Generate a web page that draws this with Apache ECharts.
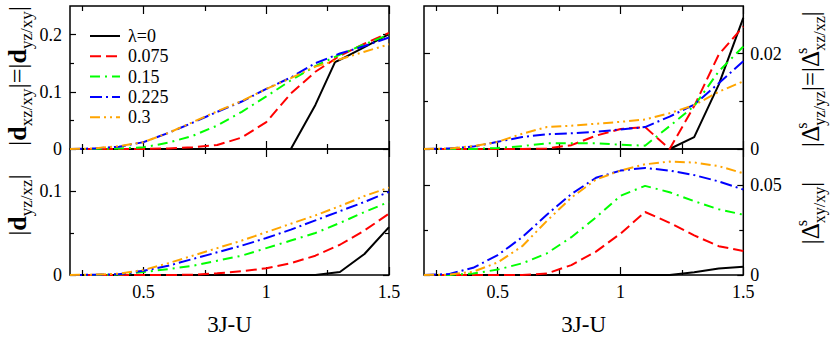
<!DOCTYPE html>
<html><head><meta charset="utf-8">
<script src="https://cdn.jsdelivr.net/npm/echarts@6/dist/echarts.min.js"></script>
<style>html,body{margin:0;padding:0;background:#fff}#c{width:830px;height:337px}</style>
</head><body><div id="c"></div>
<script>
// ---------- data ----------
const X = [0.2,0.3,0.4,0.5,0.6,0.7,0.8,0.9,1.0,1.1,1.2,1.3,1.4,1.5];
const NAMES = ['λ=0','0.075','0.15','0.225','0.3'];
const X_LABELS = [0.5,1,1.5];
const X_MINOR = [0.25,0.75,1.25];

// top-left |d_xz/xy| = |d_yz/xy|
const TL_BLACK_X = [0.2,1.1,1.2,1.28,1.3,1.4,1.5];
const TL_BLACK_Y = [0,0,0.077,0.152,0.156,0.178,0.201];
const TL_RED    = [0,0,0,0,0.001,0.003,0.007,0.02,0.047,0.097,0.135,0.163,0.184,0.203];
const TL_GREEN  = [0,0,0.001,0.003,0.011,0.023,0.041,0.065,0.092,0.12,0.145,0.165,0.183,0.2];
const TL_BLUE   = [0,0.001,0.004,0.012,0.028,0.046,0.065,0.083,0.105,0.125,0.15,0.167,0.18,0.195];
const TL_ORANGE = [0,0.001,0.005,0.012,0.028,0.047,0.066,0.084,0.105,0.124,0.144,0.157,0.17,0.183];

// top-right |Δs_yz/yz| = |Δs_xz/xz|
const TR_BLACK  = [0,0,0,0,0,0,0,0,0,0,0,0.0025,0.0135,0.0275];
const TR_RED    = [0,0,0,0,0,0.0001,0.0008,0.0028,0.0042,0.0046,0,0.009,0.0198,0.0257];
const TR_GREEN  = [0,0,0,0.0002,0.0006,0.0012,0.0012,0.0012,0.0009,0.0007,0.0048,0.009,0.0163,0.0215];
const TR_BLUE   = [0,0.0001,0.0005,0.0015,0.0025,0.0031,0.0033,0.0036,0.0041,0.0046,0.0068,0.0093,0.0138,0.0184];
const TR_ORANGE = [0,0.0001,0.0006,0.0015,0.0032,0.0046,0.0049,0.0053,0.0057,0.0062,0.0075,0.0092,0.012,0.0142];

// bottom-left |d_yz/xz|
const BL_BLACK  = [0,0,0,0,0,0,0,0,0,0,0,0.0035,0.025,0.057];
const BL_RED    = [0,0,0,0,0,0.0003,0.002,0.0045,0.008,0.014,0.023,0.036,0.053,0.073];
const BL_GREEN  = [0,0,0.0005,0.0035,0.007,0.011,0.017,0.023,0.032,0.041,0.05,0.062,0.075,0.087];
const BL_BLUE   = [0,0.0003,0.001,0.005,0.011,0.019,0.027,0.035,0.044,0.054,0.065,0.076,0.087,0.099];
const BL_ORANGE = [0,0.0005,0.0015,0.006,0.014,0.023,0.032,0.041,0.051,0.061,0.071,0.082,0.094,0.104];

// bottom-right |Δs_xy/xy|
const BR_BLACK  = [0,0,0,0,0,0,0,0,0,0,0,0.0015,0.0036,0.0046];
const BR_RED    = [0,0,0,0,0,0.0008,0.0055,0.013,0.023,0.035,0.029,0.022,0.016,0.0133];
const BR_GREEN  = [0,0,0.0008,0.003,0.0065,0.012,0.021,0.032,0.044,0.0495,0.046,0.041,0.0365,0.0335];
const BR_BLUE   = [0,0.0005,0.004,0.011,0.021,0.0335,0.045,0.054,0.058,0.0595,0.058,0.0555,0.052,0.0475];
const BR_ORANGE = [0,0.0002,0.0018,0.007,0.016,0.03,0.043,0.053,0.058,0.0615,0.063,0.0625,0.0605,0.0565];

// ---------- styles ----------
const COLORS = ['#000000','#ff0000','#00ff00','#0000ff','#ffa500'];
const DASHES = ['solid',[11,5],[10,5,2,5],[12,4,2,4],[10,4,2,4,2,4]];
const FONT = 'Liberation Serif';
const TICK = {color:'#000', width:1.2};
const LBL = {fontFamily:FONT, fontSize:18, color:'#000'};

const pairs = (xs, ys) => xs.map((x,i)=>[x, ys[i]]);

const panels = [
  {grid:{left:70, top:6, width:319, height:143}, ymax:0.25, yMaj:[0,0.1,0.2], yMin:[0.05,0.15], side:'left', xlab:false,
   data:[pairs(TL_BLACK_X,TL_BLACK_Y), pairs(X,TL_RED), pairs(X,TL_GREEN), pairs(X,TL_BLUE), pairs(X,TL_ORANGE)]},
  {grid:{left:424, top:6, width:319.3, height:143}, ymax:0.03, yMaj:[0,0.02], yMin:[0.01], side:'right', xlab:false,
   data:[pairs(X,TR_BLACK), pairs(X,TR_RED), pairs(X,TR_GREEN), pairs(X,TR_BLUE), pairs(X,TR_ORANGE)]},
  {grid:{left:70, top:149, width:319, height:141}, ymax:0.15, yMaj:[0,0.1], yMin:[0.05], side:'left', xlab:true,
   data:[pairs(X,BL_BLACK), pairs(X,BL_RED), pairs(X,BL_GREEN), pairs(X,BL_BLUE), pairs(X,BL_ORANGE)]},
  {grid:{left:424, top:149, width:319.3, height:141}, ymax:0.07, yMaj:[0,0.05], yMin:[0.025], side:'right', xlab:true,
   data:[pairs(X,BR_BLACK), pairs(X,BR_RED), pairs(X,BR_GREEN), pairs(X,BR_BLUE), pairs(X,BR_ORANGE)]}
];

const grids=[], xAxis=[], yAxis=[], series=[];
panels.forEach((p, gi) => {
  grids.push(Object.assign({show:true, borderColor:'#000', borderWidth:1.5, backgroundColor:'transparent'}, p.grid));
  const xb = {gridIndex:gi, type:'value', min:0.2, max:1.5, axisLine:{show:false,onZero:false}, splitLine:{show:false}};
  ['bottom','top'].forEach(pos => {
    xAxis.push(Object.assign({}, xb, {position:pos,
      axisTick:{inside:true, length:8, customValues:X_LABELS, lineStyle:TICK},
      axisLabel:Object.assign({show:p.xlab && pos==='bottom', customValues:X_LABELS, margin:8}, LBL),
      name:(p.xlab && pos==='bottom') ? '3J-U' : '', nameLocation:'middle', nameGap:38,
      nameTextStyle:{fontFamily:FONT, fontSize:23, color:'#000'}}));
    xAxis.push(Object.assign({}, xb, {position:pos,
      axisTick:{inside:true, length:5, customValues:X_MINOR, lineStyle:TICK}, axisLabel:{show:false}}));
  });
  const yb = {gridIndex:gi, type:'value', min:0, max:p.ymax, axisLine:{show:false,onZero:false}, splitLine:{show:false}};
  ['left','right'].forEach(pos => {
    yAxis.push(Object.assign({}, yb, {position:pos,
      axisTick:{inside:true, length:6, customValues:p.yMaj, lineStyle:TICK},
      axisLabel:Object.assign({show:pos===p.side, customValues:p.yMaj, margin:pos==='left'?8:7}, LBL)}));
    yAxis.push(Object.assign({}, yb, {position:pos,
      axisTick:{inside:true, length:4, customValues:p.yMin, lineStyle:TICK}, axisLabel:{show:false}}));
  });
  p.data.forEach((d, si) => {
    series.push({type:'line', name:NAMES[si], xAxisIndex:gi*4, yAxisIndex:gi*4, data:d,
      symbol:'none', showSymbol:false, silent:true,
      lineStyle:{color:COLORS[si], width:2, type:DASHES[si]}, itemStyle:{color:COLORS[si]}});
  });
});

function rich(main, sub){
  return {
    m:{fontFamily:FONT, fontSize:main, color:'#000'},
    b:{fontFamily:FONT, fontSize:main, fontWeight:'bold', color:'#000'},
    sub:{fontFamily:FONT, fontSize:sub, color:'#000', verticalAlign:'bottom', padding:[Math.round(main*0.7),0,0,0]},
    sup:{fontFamily:FONT, fontSize:sub, color:'#000', verticalAlign:'top', width:0.1, padding:[0,0,Math.round(main*0.7),0]}
  };
}
function title(x, y, text, main, sub){
  return {type:'text', x:x, y:y, rotation:Math.PI/2, silent:true,
    style:{text:text, rich:rich(main, sub), align:'center', verticalAlign:'middle', textAlign:'center', textVerticalAlign:'middle', fill:'#000', fontFamily:FONT, fontSize:main}};
}

const chart = echarts.init(document.getElementById('c'), null, {renderer:'svg'});
chart.setOption({
  animation:false,
  backgroundColor:'#fff',
  grid:grids, xAxis:xAxis, yAxis:yAxis, series:series,
  legend:{data:NAMES, orient:'vertical', left:84, top:22, itemWidth:30, itemHeight:18, itemGap:2.3,
    itemStyle:{opacity:0, borderWidth:0},
    textStyle:{fontFamily:FONT, fontSize:18, color:'#000', padding:[0,0,0,3]}, selectedMode:false},
  graphic:[
    title(17, 76, '{m||}{b|d}{sub|xz/xy}{m||=|}{b|d}{sub|yz/xy}{m||}', 26, 17),
    title(17, 205, '{m||}{b|d}{sub|yz/xz}{m||}', 26, 17),
    title(810, 79, '{m||Δ}{sup|s}{sub|yz/yz}{m||=|Δ}{sup|s}{sub|xz/xz}{m||}', 25, 16),
    title(810, 213, '{m||Δ}{sup|s}{sub|xy/xy}{m||}', 25, 16)
  ]
});
</script></body></html>
